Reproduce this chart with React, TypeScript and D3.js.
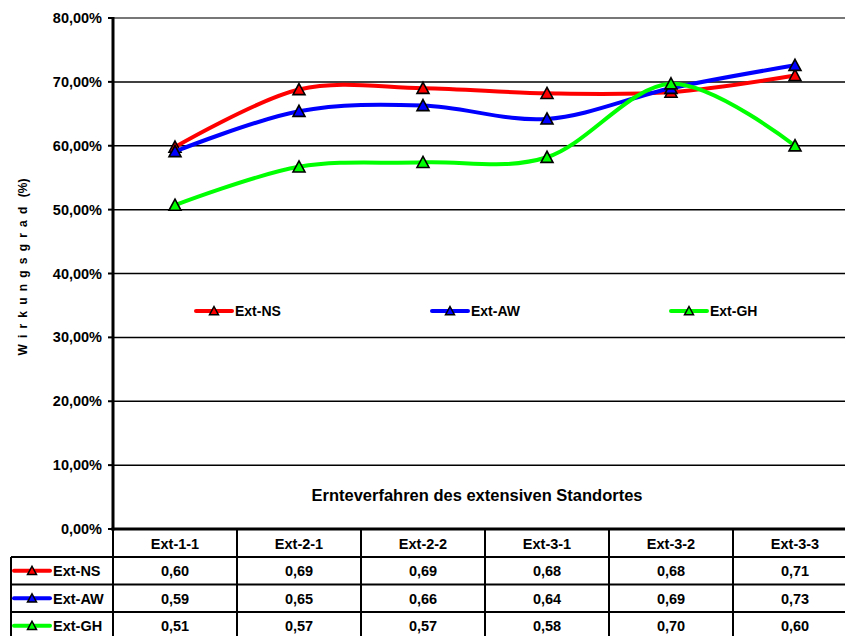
import React from "react";
import * as d3 from "d3";

const categories = ["Ext-1-1", "Ext-2-1", "Ext-2-2", "Ext-3-1", "Ext-3-2", "Ext-3-3"];
const seriesNames = ["Ext-NS", "Ext-AW", "Ext-GH"];
const extNS = [0.598, 0.688, 0.69, 0.682, 0.684, 0.71];
const extAW = [0.591, 0.654, 0.663, 0.642, 0.69, 0.726];
const extGH = [0.507, 0.567, 0.574, 0.582, 0.697, 0.6];
const seriesColors = ["#ff0000", "#0000ff", "#00ff00"];
const yTicks = [0, 0.1, 0.2, 0.3, 0.4, 0.5, 0.6, 0.7, 0.8];
const yTitleMain = "Wirkungsgrad";
const yTitleUnit = "(%)";
const xTitle = "Ernteverfahren des extensiven Standortes";

const W = 845;
const H = 636;
const FONT = "'Liberation Sans', Arial, sans-serif";

const de = d3.formatLocale({ decimal: ",", thousands: ".", grouping: [3], currency: ["", "€"] });
const fmtPct = de.format(".2%");
const fmtVal = de.format(".2f");

export default function App() {
  const seriesValues = [extNS, extAW, extGH];
  const left = 113;
  const right = 857;
  const top = 18;
  const bottom = 529;
  const x = d3.scaleBand<string>().domain(categories).range([left, right]).padding(0);
  const y = d3.scaleLinear().domain([0, 0.8]).range([bottom, top]);
  const cx = (c: string) => (x(c) as number) + x.bandwidth() / 2;
  const line = d3
    .line<number>()
    .x((_, i) => cx(categories[i]))
    .y((v) => y(v))
    .curve(d3.curveCardinal.tension(0));

  const tri = (s: number) => `M0,${-s}L${s},${s * 0.85}L${-s},${s * 0.85}Z`;

  // table geometry
  const headerTop = bottom;
  const headerBottom = 557;
  const rowH = 27.5;
  const keyLeft = 11;

  const legendX = [196, 432, 671];
  const legendY = 311;

  return (
    <svg
      width={W}
      height={H}
      style={{ position: "absolute", left: 0, top: 0, background: "#fff" }}
      fontFamily={FONT}
      fontWeight="bold"
    >
      <rect x={0} y={0} width={W} height={H} fill="#fff" />
      {/* gridlines */}
      {yTicks.slice(1).map((t) => (
        <line
          key={t}
          x1={left}
          x2={right}
          y1={y(t)}
          y2={y(t)}
          stroke={t === 0.8 ? "#777" : "#000"}
          strokeWidth={t === 0.8 ? 2 : 1.5}
        />
      ))}
      {/* y ticks + labels */}
      {yTicks.map((t) => (
        <g key={"t" + t}>
          <line x1={left - 5} x2={left} y1={y(t)} y2={y(t)} stroke="#000" strokeWidth={2} />
          <text x={left - 11} y={y(t) + 5} textAnchor="end" fontSize={14.5} fill="#000">
            {fmtPct(t)}
          </text>
        </g>
      ))}
      {/* y title */}
      <text
        transform={`translate(27,267) rotate(-90)`}
        textAnchor="middle"
        fontSize={12}
        fill="#000"
      >
        <tspan letterSpacing={6.2}>{yTitleMain}</tspan>
        <tspan> {yTitleUnit}</tspan>
      </text>
      {/* x title */}
      <text x={477} y={501} textAnchor="middle" fontSize={16.5} fill="#000">
        {xTitle}
      </text>

      {/* series */}
      {seriesValues.map((vals, si) => (
        <g key={seriesNames[si]}>
          <path d={line(vals) || ""} fill="none" stroke={seriesColors[si]} strokeWidth={4} strokeLinejoin="round" />
          {vals.map((v, i) => (
            <path
              key={i}
              d={tri(6)}
              transform={`translate(${cx(categories[i])},${y(v)})`}
              fill={seriesColors[si]}
              stroke="#000"
              strokeWidth={1.6}
            />
          ))}
        </g>
      ))}

      {/* legend */}
      {seriesNames.map((n, si) => (
        <g key={"lg" + n}>
          <line x1={legendX[si]} x2={legendX[si] + 36} y1={legendY} y2={legendY} stroke={seriesColors[si]} strokeWidth={4} strokeLinecap="round" />
          <path d={tri(4.5)} transform={`translate(${legendX[si] + 18},${legendY})`} fill={seriesColors[si]} stroke="#000" strokeWidth={1.5} />
          <text x={legendX[si] + 39} y={legendY + 5} fontSize={14} fill="#000">
            {n}
          </text>
        </g>
      ))}

      {/* axes */}
      <line x1={left} x2={left} y1={top - 1} y2={bottom + 1.5} stroke="#000" strokeWidth={3} />

      {/* table */}
      <g>
        {categories.map((c) => (
          <line key={"hv" + c} x1={x(c) as number} x2={x(c) as number} y1={headerTop} y2={H} stroke="#000" strokeWidth={2} />
        ))}
        <line x1={right} x2={right} y1={headerTop} y2={H} stroke="#000" strokeWidth={2} />
        <line x1={keyLeft} x2={keyLeft} y1={headerBottom} y2={H} stroke="#000" strokeWidth={2} />
        {[0, 1, 2].map((r) => (
          <line
            key={"hr" + r}
            x1={keyLeft}
            x2={right}
            y1={headerBottom + r * rowH}
            y2={headerBottom + r * rowH}
            stroke="#000"
            strokeWidth={2}
          />
        ))}
        <line x1={left - 1.5} x2={right} y1={bottom} y2={bottom} stroke="#000" strokeWidth={3} />
        {categories.map((c) => (
          <text key={"ht" + c} x={cx(c)} y={(headerTop + headerBottom) / 2 + 5.5} textAnchor="middle" fontSize={14.5} fill="#000">
            {c}
          </text>
        ))}
        {seriesValues.map((vals, si) => {
          const ry = headerBottom + si * rowH + rowH / 2;
          return (
            <g key={"row" + si}>
              <line x1={keyLeft + 3} x2={keyLeft + 39} y1={ry} y2={ry} stroke={seriesColors[si]} strokeWidth={4} strokeLinecap="round" />
              <path d={tri(4.5)} transform={`translate(${keyLeft + 21},${ry})`} fill={seriesColors[si]} stroke="#000" strokeWidth={1.5} />
              <text x={keyLeft + 42} y={ry + 5.5} fontSize={14.5} fill="#000">
                {seriesNames[si]}
              </text>
              {vals.map((v, i) => (
                <text key={i} x={cx(categories[i])} y={ry + 5.5} textAnchor="middle" fontSize={14.5} fill="#000">
                  {fmtVal(v)}
                </text>
              ))}
            </g>
          );
        })}
      </g>
    </svg>
  );
}
